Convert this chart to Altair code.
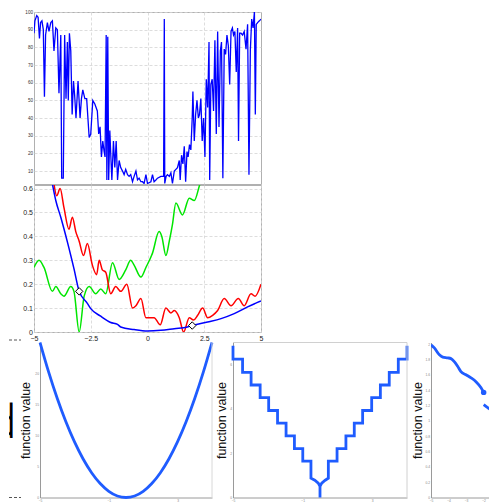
import altair as alt
import pandas as pd

FONT = "Liberation Sans"
BLUE = "#0000ff"
RED = "#ff0000"
GREEN = "#00e600"
BLUE2 = "#1f5cff"
GRID = "#d4d4d4"
FRAME = "#b0b0b0"

top_x = [-5.00, -4.96, -4.88, -4.82, -4.76, -4.71, -4.65, -4.59, -4.54, -4.49, -4.41, -4.34, -4.26, -4.19, -4.12,
         -4.04, -3.97, -3.90, -3.82, -3.78, -3.71, -3.65, -3.59, -3.53, -3.49, -3.44, -3.38, -3.32, -3.26, -3.21,
         -3.15, -3.06, -2.97, -2.91, -2.85, -2.76, -2.68, -2.57, -2.50, -2.41, -2.32, -2.21, -2.15, -2.09, -2.03,
         -1.97, -1.91, -1.87, -1.82, -1.79, -1.75, -1.71, -1.66, -1.62, -1.57, -1.50, -1.44, -1.38, -1.32, -1.25,
         -1.18, -1.10, -1.03, -0.96, -0.88, -0.81, -0.74, -0.66, -0.59, -0.51, -0.44, -0.37, -0.29, -0.22, -0.15,
         -0.07, 0.00, 0.15, 0.22, 0.29, 0.37, 0.44, 0.59, 0.71, 0.74, 0.76, 0.82, 0.88, 0.96, 1.03,
         1.10, 1.18, 1.25, 1.32, 1.40, 1.44, 1.50, 1.56, 1.62, 1.68, 1.74, 1.79, 1.85, 1.91, 1.97,
         2.00, 2.06, 2.12, 2.18, 2.24, 2.29, 2.35, 2.41, 2.47, 2.53, 2.59, 2.65, 2.71, 2.74, 2.79,
         2.85, 2.91, 2.97, 3.03, 3.09, 3.15, 3.21, 3.26, 3.32, 3.38, 3.44, 3.50, 3.56, 3.62, 3.68,
         3.74, 3.79, 3.85, 3.91, 3.97, 4.01, 4.06, 4.12, 4.19, 4.26, 4.34, 4.41, 4.47, 4.53, 4.59,
         4.65, 4.71, 4.75, 4.79, 4.85, 4.93, 5.00]
top_y = [88, 95, 98, 97, 85, 94, 95, 90, 52, 87, 94, 89, 94, 95, 78,
         91, 90, 54, 87, 6, 6, 87, 51, 83, 50, 88, 78, 42, 61, 53,
         40, 61, 40, 51, 56, 51, 51, 29, 31, 50, 48, 44, 31, 35, 18,
         27, 21, 18, 87, 5, 86, 5, 33, 20, 5, 27, 12, 27, 5, 16,
         12, 10, 8, 11, 8, 7, 8, 4, 7, 10, 5, 6, 4, 4, 3,
         8, 3, 4, 8, 4, 5, 6, 7, 7, 96, 3, 7, 8, 7, 9,
         3, 10, 11, 12, 16, 5, 19, 14, 24, 4, 21, 18, 25, 22, 40,
         55, 27, 42, 50, 40, 42, 51, 27, 40, 18, 62, 46, 83, 5, 59,
         62, 44, 84, 31, 89, 35, 78, 83, 6, 79, 76, 87, 81, 59, 89,
         91, 87, 89, 66, 91, 27, 88, 88, 87, 89, 79, 93, 8, 78, 96,
         91, 100, 42, 93, 94, 95, 96]
top_ticks = [10, 20, 30, 40, 50, 60, 70, 80, 90, 100]

blue_x = [-4.19, -4.04, -3.82, -3.53, -3.24, -3.01, -2.65, -2.50, -2.06, -1.62, -1.32, -1.18, -0.59, 0.0,
          0.59, 1.18, 1.76, 1.99, 2.65, 3.24, 3.82, 4.41, 5.0]
blue_y = [0.62, 0.55, 0.48, 0.377, 0.265, 0.17, 0.12, 0.098, 0.066, 0.04, 0.032, 0.021, 0.01, 0.004,
          0.007, 0.014, 0.021, 0.028, 0.042, 0.056, 0.077, 0.105, 0.13]
red_x = [-4.12, -4.0, -3.85, -3.68, -3.46, -3.31, -3.16, -3.01, -2.82, -2.65, -2.43, -2.24, -2.13, -1.99, -1.84,
         -1.62, -1.40, -1.18, -0.91, -0.66, -0.51, -0.29, -0.07, 0.12, 0.29, 0.56, 0.81, 1.03, 1.18, 1.40,
         1.59, 1.84, 2.03, 2.21, 2.43, 2.65, 2.87, 3.09, 3.38, 3.68, 4.0, 4.26, 4.56, 4.74, 5.0]
red_y = [0.62, 0.57, 0.60, 0.52, 0.43, 0.48, 0.42, 0.38, 0.32, 0.37, 0.28, 0.24, 0.30, 0.26, 0.25,
         0.16, 0.19, 0.17, 0.20, 0.10, 0.11, 0.14, 0.06, 0.06, 0.06, 0.03, 0.10, 0.08, 0.09, 0.06,
         0.00, 0.06, 0.05, 0.07, 0.10, 0.06, 0.07, 0.09, 0.14, 0.11, 0.14, 0.11, 0.16, 0.15, 0.20]
green_x = [-5.0, -4.78, -4.56, -4.19, -4.04, -3.82, -3.68, -3.38, -3.24, -3.01, -2.79, -2.57, -2.28, -2.06,
           -1.84, -1.54, -1.25, -0.96, -0.74, -0.59, -0.29, -0.07, 0.22, 0.51, 0.63, 0.81, 0.96, 1.10,
           1.25, 1.54, 1.84, 2.06, 2.28, 2.43]
green_y = [0.27, 0.30, 0.27, 0.17, 0.19, 0.16, 0.15, 0.19, 0.17, 0.00, 0.15, 0.19, 0.16, 0.18,
           0.16, 0.29, 0.22, 0.26, 0.30, 0.28, 0.23, 0.27, 0.33, 0.42, 0.40, 0.32, 0.38, 0.45,
           0.54, 0.49, 0.56, 0.55, 0.61, 0.66]
diamond_x = [-3.01, 1.97]
diamond_y = [0.17, 0.027]
mid_x_ticks = [-5, -2.5, 0, 2.5, 5]
mid_y_ticks = [0, 0.1, 0.2, 0.3, 0.4, 0.5, 0.6]

p1_x = [-5, -4.5, -4, -3.5, -3, -2.5, -2, -1.5, -1, -0.5, 0, 0.5, 1, 1.5, 2, 2.5, 3, 3.5, 4, 4.5, 5]
p1_y = [25, 20.25, 16, 12.25, 9, 6.25, 4, 2.25, 1, 0.25, 0, 0.25, 1, 2.25, 4, 6.25, 9, 12.25, 16, 20.25, 25]
p1_yticks = [0, 5, 10, 15, 20]

p2_x = [-5, -5, -4.45, -4.45, -3.96, -3.96, -3.44, -3.44, -2.95, -2.95, -2.44, -2.44, -1.95, -1.95,
        -1.47, -1.47, -0.99, -0.99, -0.52, -0.52, -0.3, -0.1, 0, 0, 0, 0.1, 0.3, 0.48, 0.48,
        0.98, 0.98, 1.49, 1.49, 1.97, 1.97, 2.45, 2.45, 2.97, 2.97, 3.47, 3.47, 3.98, 3.98, 4.50, 4.50, 5, 5]
p2_y = [6.85, 6.25, 6.25, 5.65, 5.65, 5.08, 5.08, 4.51, 4.51, 3.93, 3.93, 3.36, 3.36, 2.78,
        2.78, 2.21, 2.21, 1.64, 1.64, 0.87, 0.78, 0.65, 0.5, 0, 0.5, 0.65, 0.78, 0.87, 1.64,
        1.64, 2.21, 2.21, 2.78, 2.78, 3.36, 3.36, 3.93, 3.93, 4.51, 4.51, 5.08, 5.08, 5.65, 5.65, 6.25, 6.25, 6.85]
p2_yticks = [0, 1, 2, 3, 4, 5, 6]

p3a_x = [-5.0, -4.81, -4.52, -4.33, -4.05, -3.86, -3.67, -3.48, -3.29, -3.0, -2.71, -2.43, -2.14, -1.99]
p3a_y = [1.99, 1.95, 1.86, 1.83, 1.82, 1.81, 1.77, 1.71, 1.64, 1.60, 1.56, 1.51, 1.43, 1.37]
p3b_x = [-1.99, -1.76, -1.53, -1.34, -1.25]
p3b_y = [1.21, 1.17, 1.13, 1.08, 1.06]
p3_dot_x = [-1.99]
p3_dot_y = [1.37]
p3_yticks = [0, 0.2, 0.4, 0.6, 0.8, 1, 1.2, 1.4, 1.6, 1.8, 2]
p3_xticks = [-5, -4, -3, -2]
int_ticks = [-5, -4, -3, -2, -1, 0, 1, 2, 3, 4, 5]

EMPTY = alt.Data(values=[{}])


def seq_df(xs, ys, **extra):
    d = pd.DataFrame({"x": xs, "y": ys})
    d["i"] = range(len(d))
    for k, v in extra.items():
        d[k] = v
    return d


def spacer(w, h):
    return alt.Chart(EMPTY).mark_rule(strokeOpacity=0, strokeWidth=0.1).encode(
        x=alt.value(0), x2=alt.value(0.1), y=alt.value(0.5)).properties(width=w, height=h)


TOP_H = 172
MID_H = 147
BH = 155

top_df = seq_df(top_x, top_y)
top = alt.Chart(top_df).mark_line(color=BLUE, strokeWidth=1.3, clip=True).encode(
    x=alt.X("x:Q", title=None, scale=alt.Scale(domain=[-5, 5], nice=False, zero=False),
            axis=alt.Axis(values=[-2.5, 0, 2.5], labels=False, ticks=False, domain=False,
                          grid=True, gridColor=GRID, gridDash=[3, 2], gridWidth=0.8)),
    y=alt.Y("y:Q", title=None, scale=alt.Scale(domain=[2.7, 100], nice=False, zero=False),
            axis=alt.Axis(values=top_ticks, labelFontSize=4.6, labelColor="#333", labelPadding=1.5,
                          ticks=False, domain=False, grid=True, gridColor=GRID, gridDash=[3, 2], gridWidth=0.8)),
    order="i:Q",
).properties(width=227, height=TOP_H, view=alt.ViewBackground(stroke=FRAME, strokeWidth=1))

mid_df = pd.concat([
    seq_df(green_x, green_y, s="green"),
    seq_df(red_x, red_y, s="red"),
    seq_df(blue_x, blue_y, s="blue"),
])
mx = alt.X("x:Q", title=None, scale=alt.Scale(domain=[-5, 5], nice=False, zero=False),
           axis=alt.Axis(values=mid_x_ticks, format=".1~f", labelFontSize=7, labelColor="#222", labelPadding=2,
                         tickSize=0, domain=False, grid=True, gridColor=GRID, gridDash=[3, 2], gridWidth=0.8))
my = alt.Y("y:Q", title=None, scale=alt.Scale(domain=[0, 0.615], nice=False, zero=False),
           axis=alt.Axis(values=mid_y_ticks, format=".1~f", labelFontSize=7, labelColor="#222", labelPadding=1.5,
                         tickSize=0, domain=False, grid=True, gridColor=GRID, gridDash=[3, 2], gridWidth=0.8))
base = alt.Chart(mid_df).encode(x=mx, y=my, order="i:Q")
layers = []
for name, col in [("green", GREEN), ("red", RED), ("blue", BLUE)]:
    layers.append(base.transform_filter(alt.datum.s == name).mark_line(
        color=col, strokeWidth=1.5, interpolate="monotone", clip=True))
dia = alt.Chart(pd.DataFrame({"x": diamond_x, "y": diamond_y})).mark_point(
    shape="diamond", filled=True, fill="white", stroke="black", strokeWidth=1, size=55, opacity=1
).encode(x=mx, y=my)
mid = alt.layer(*layers, dia).properties(width=227, height=MID_H,
                                         view=alt.ViewBackground(stroke=FRAME, strokeWidth=1))

lead1 = alt.Chart(EMPTY).mark_rule(color="#555", strokeDash=[3, 2], strokeWidth=1).encode(
    x=alt.value(0), x2=alt.value(12), y=alt.value(155)).properties(width=25, height=MID_H)


def bx(vals, domain):
    return alt.X("x:Q", title=None, scale=alt.Scale(domain=domain, nice=False, zero=False),
                 axis=alt.Axis(values=vals, format="d", labelFontSize=3.3, labelColor="#888", labelPadding=0.5,
                               ticks=False, domainColor="#9a9a9a", domainWidth=1, grid=False))


def by(vals, domain, tpad, fmt):
    return alt.Y("y:Q", title="function value", scale=alt.Scale(domain=domain, nice=False, zero=False),
                 axis=alt.Axis(values=vals, format=fmt, labelFontSize=3.3, labelColor="#888", labelPadding=1.5,
                               ticks=False, domainColor="#9a9a9a", domainWidth=1, grid=False,
                               titleFontSize=12.5, titleColor="#111", titleFontWeight="normal",
                               titlePadding=tpad))


p1x = bx(int_ticks, [-5, 5])
p1y = by(p1_yticks, [0, 25], 2, "d")
p1_line = alt.Chart(seq_df(p1_x, p1_y)).mark_line(color=BLUE2, strokeWidth=2.8, interpolate="monotone").encode(
    x=p1x, y=p1y, order="i:Q")
p1_border = alt.Chart(EMPTY).mark_rule(color="#d8d8d8", strokeWidth=1).encode(x=alt.datum(5))
p1 = alt.layer(p1_line, p1_border).properties(width=172, height=BH)

p2x = bx(int_ticks, [-5, 5])
p2y = by(p2_yticks, [0, 7], 1.5, "d")
p2_line = alt.Chart(seq_df(p2_x, p2_y)).mark_line(color=BLUE2, strokeWidth=2.8).encode(x=p2x, y=p2y, order="i:Q")
p2_r = alt.Chart(EMPTY).mark_rule(color="#d0d0d0", strokeWidth=1).encode(x=alt.datum(5))
p2_t = alt.Chart(EMPTY).mark_rule(color="#d0d0d0", strokeWidth=1).encode(y=alt.datum(7))
p2 = alt.layer(p2_line, p2_r, p2_t).properties(width=174, height=BH)

P3W = 58
p3x = bx(p3_xticks, [-5, -5 + P3W / 17.5])
p3y = by(p3_yticks, [0, 2.02], 0, ".1~f")
p3_df = pd.concat([seq_df(p3a_x, p3a_y, seg="a"), seq_df(p3b_x, p3b_y, seg="b")])
p3_line = alt.Chart(p3_df).mark_line(color=BLUE2, strokeWidth=2.8, interpolate="monotone", clip=True).encode(
    x=p3x, y=p3y, detail="seg:N", order="i:Q")
p3_dot = alt.Chart(pd.DataFrame({"x": p3_dot_x, "y": p3_dot_y})).mark_circle(
    color=BLUE2, size=30, opacity=1).encode(x=p3x, y=p3y)
p3 = alt.layer(p3_line, p3_dot).properties(width=P3W, height=BH)

d_text = alt.Chart(EMPTY).mark_text(text="d", font="Roboto", fontWeight=300, fontSize=46, color="#000",
                                    align="right", baseline="alphabetic", clip=True).encode(
    x=alt.value(7), y=alt.value(95.5))
lead2 = alt.Chart(EMPTY).mark_rule(color="#555", strokeDash=[3, 2], strokeWidth=1).encode(
    x=alt.value(0), x2=alt.value(12), y=alt.value(155))
dchart = alt.layer(d_text, lead2).properties(width=31, height=BH)

row1 = alt.hconcat(spacer(25, TOP_H), top, spacing=0, bounds="flush")
row2 = alt.hconcat(lead1, mid, spacing=0, bounds="flush")
row3 = alt.hconcat(dchart, p1, spacer(21, BH), p2, spacer(24, BH), p3, spacing=0, bounds="flush")

upper = alt.vconcat(row1, row2, spacing=-1)
chart = alt.vconcat(upper, row3, spacing=-5.5).properties(padding=0).configure_view(
    strokeWidth=0
).configure_axis(
    labelFont=FONT, titleFont=FONT, labelFlush=False, labelOverlap=False
)

chart.save("out.html", embed_options={"renderer": "svg", "actions": False})
